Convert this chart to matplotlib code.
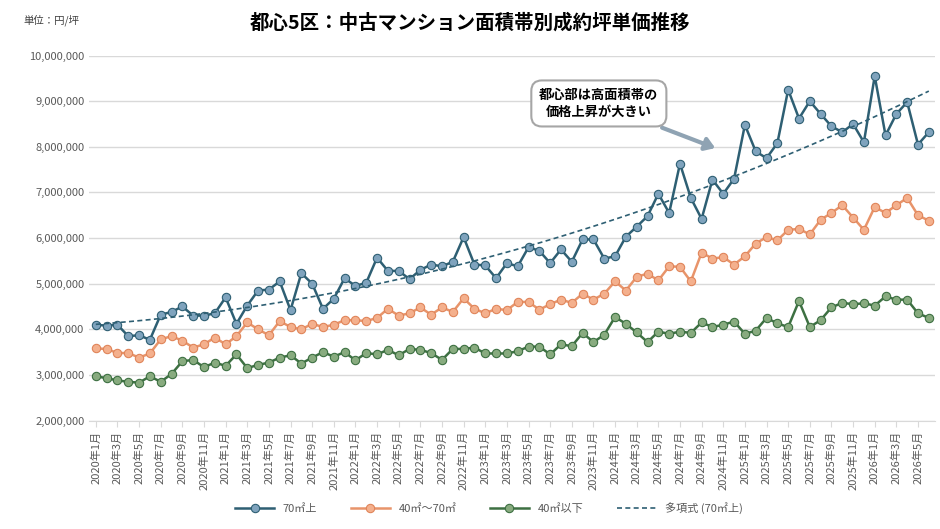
import numpy as np
import matplotlib
matplotlib.use("Agg")
from matplotlib import pyplot as plt

plt.rcParams['font.family'] = ['Noto Sans CJK JP', 'DejaVu Sans']

months = [f"{y}年{m}月" for y in range(2020, 2027) for m in range(1, 13)][:78]

large = [4.10, 4.08, 4.10, 3.85, 3.87, 3.77, 4.32, 4.38, 4.50, 4.30, 4.30, 4.35,
         4.70, 4.12, 4.52, 4.85, 4.87, 5.05, 4.42, 5.23, 5.00, 4.45, 4.67, 5.12,
         4.95, 5.02, 5.57, 5.28, 5.28, 5.10, 5.30, 5.42, 5.38, 5.48, 6.02, 5.42,
         5.40, 5.12, 5.45, 5.38, 5.80, 5.72, 5.45, 5.75, 5.48, 5.97, 5.97, 5.55,
         5.60, 6.03, 6.25, 6.48, 6.97, 6.55, 7.63, 6.88, 6.42, 7.28, 6.97, 7.30,
         8.48, 7.90, 7.75, 8.08, 9.25, 8.62, 9.00, 8.72, 8.45, 8.32, 8.50, 8.10,
         9.55, 8.25, 8.72, 8.98, 8.05, 8.32]
middle = [3.58, 3.57, 3.48, 3.48, 3.38, 3.47, 3.78, 3.85, 3.75, 3.60, 3.67, 3.82,
          3.67, 3.85, 4.15, 4.00, 3.87, 4.18, 4.05, 4.00, 4.12, 4.05, 4.10, 4.20,
          4.20, 4.18, 4.25, 4.45, 4.30, 4.35, 4.48, 4.32, 4.48, 4.38, 4.68, 4.45,
          4.35, 4.45, 4.42, 4.60, 4.60, 4.43, 4.55, 4.65, 4.58, 4.78, 4.65, 4.78,
          5.05, 4.85, 5.15, 5.22, 5.07, 5.38, 5.37, 5.05, 5.68, 5.55, 5.58, 5.42,
          5.60, 5.88, 6.02, 5.95, 6.18, 6.20, 6.08, 6.40, 6.55, 6.72, 6.45, 6.18,
          6.68, 6.55, 6.72, 6.88, 6.50, 6.38]
small = [2.97, 2.93, 2.88, 2.85, 2.83, 2.97, 2.85, 3.02, 3.30, 3.33, 3.17, 3.27,
         3.20, 3.45, 3.15, 3.22, 3.27, 3.38, 3.43, 3.25, 3.38, 3.50, 3.40, 3.50,
         3.32, 3.48, 3.45, 3.55, 3.43, 3.57, 3.55, 3.48, 3.33, 3.57, 3.57, 3.60,
         3.47, 3.47, 3.47, 3.52, 3.62, 3.62, 3.45, 3.67, 3.63, 3.92, 3.72, 3.88,
         4.27, 4.12, 3.93, 3.72, 3.95, 3.90, 3.95, 3.92, 4.15, 4.05, 4.10, 4.17,
         3.90, 3.97, 4.25, 4.13, 4.05, 4.62, 4.05, 4.20, 4.48, 4.58, 4.55, 4.57,
         4.52, 4.72, 4.65, 4.65, 4.35, 4.25]

x = np.arange(len(months))
to_yen = lambda v: np.array(v) * 1e6

fig, ax = plt.subplots(figsize=(9.4, 5.29), dpi=100)
fig.subplots_adjust(left=0.095, right=0.995, top=0.895, bottom=0.205)

ax.plot(x, to_yen(large), color='#2e5f73', lw=1.8, marker='o', ms=6,
        mfc='#7fa3bd', mec='#2e5f73', mew=0.8, label='70㎡上')
ax.plot(x, to_yen(middle), color='#e8946a', lw=1.8, marker='o', ms=6,
        mfc='#f4b08d', mec='#e0855a', mew=0.8, label='40㎡〜70㎡')
ax.plot(x, to_yen(small), color='#3d7042', lw=1.8, marker='o', ms=6,
        mfc='#88ab7f', mec='#3d7042', mew=0.8, label='40㎡以下')
coef = np.polyfit(x, to_yen(large), 2)
ax.plot(x, np.polyval(coef, x), color='#2e5f73', lw=1.2, ls=(0, (3, 2)),
        label='多項式 (70㎡上)')

ax.set_ylim(2e6, 1e7)
ax.set_yticks(np.arange(2e6, 1.01e7, 1e6))
ax.yaxis.set_major_formatter(matplotlib.ticker.FuncFormatter(lambda v, p: f"{int(v):,}"))
ax.set_xlim(-0.6, len(x) - 0.4)
ax.set_xticks(x[::2])
ax.set_xticklabels(months[::2], rotation=90, fontsize=8, color='#595959')
ax.tick_params(axis='y', labelsize=8, colors='#595959', length=0)
ax.tick_params(axis='x', length=4, color='#d9d9d9')
ax.grid(axis='y', color='#d9d9d9', lw=1)
for s in ['top', 'right', 'left']:
    ax.spines[s].set_visible(False)
ax.spines['bottom'].set_color('#d9d9d9')

fig.suptitle('都心5区：中古マンション面積帯別成約坪単価推移', fontsize=14,
             fontweight='bold', x=0.5, y=0.975)
fig.text(0.025, 0.955, '単位：円/坪', fontsize=7.5, color='#404040')

ax.annotate('都心部は高面積帯の\n価格上昇が大きい', xy=(57.5, 7.95e6), xytext=(46.5, 8.95e6),
            fontsize=9.5, fontweight='bold', ha='center', va='center',
            bbox=dict(boxstyle='round,pad=0.6,rounding_size=0.8', fc='white', ec='#a6a6a6', lw=1.5),
            arrowprops=dict(arrowstyle='-|>,head_width=0.4,head_length=0.6', color='#8fa3b3', lw=3))

fig.legend(loc='center', bbox_to_anchor=(0.52, 0.04), ncol=4, frameon=False,
           fontsize=8, labelcolor='#595959', handlelength=3.5, columnspacing=3)

fig.savefig('out.png', dpi=100)
